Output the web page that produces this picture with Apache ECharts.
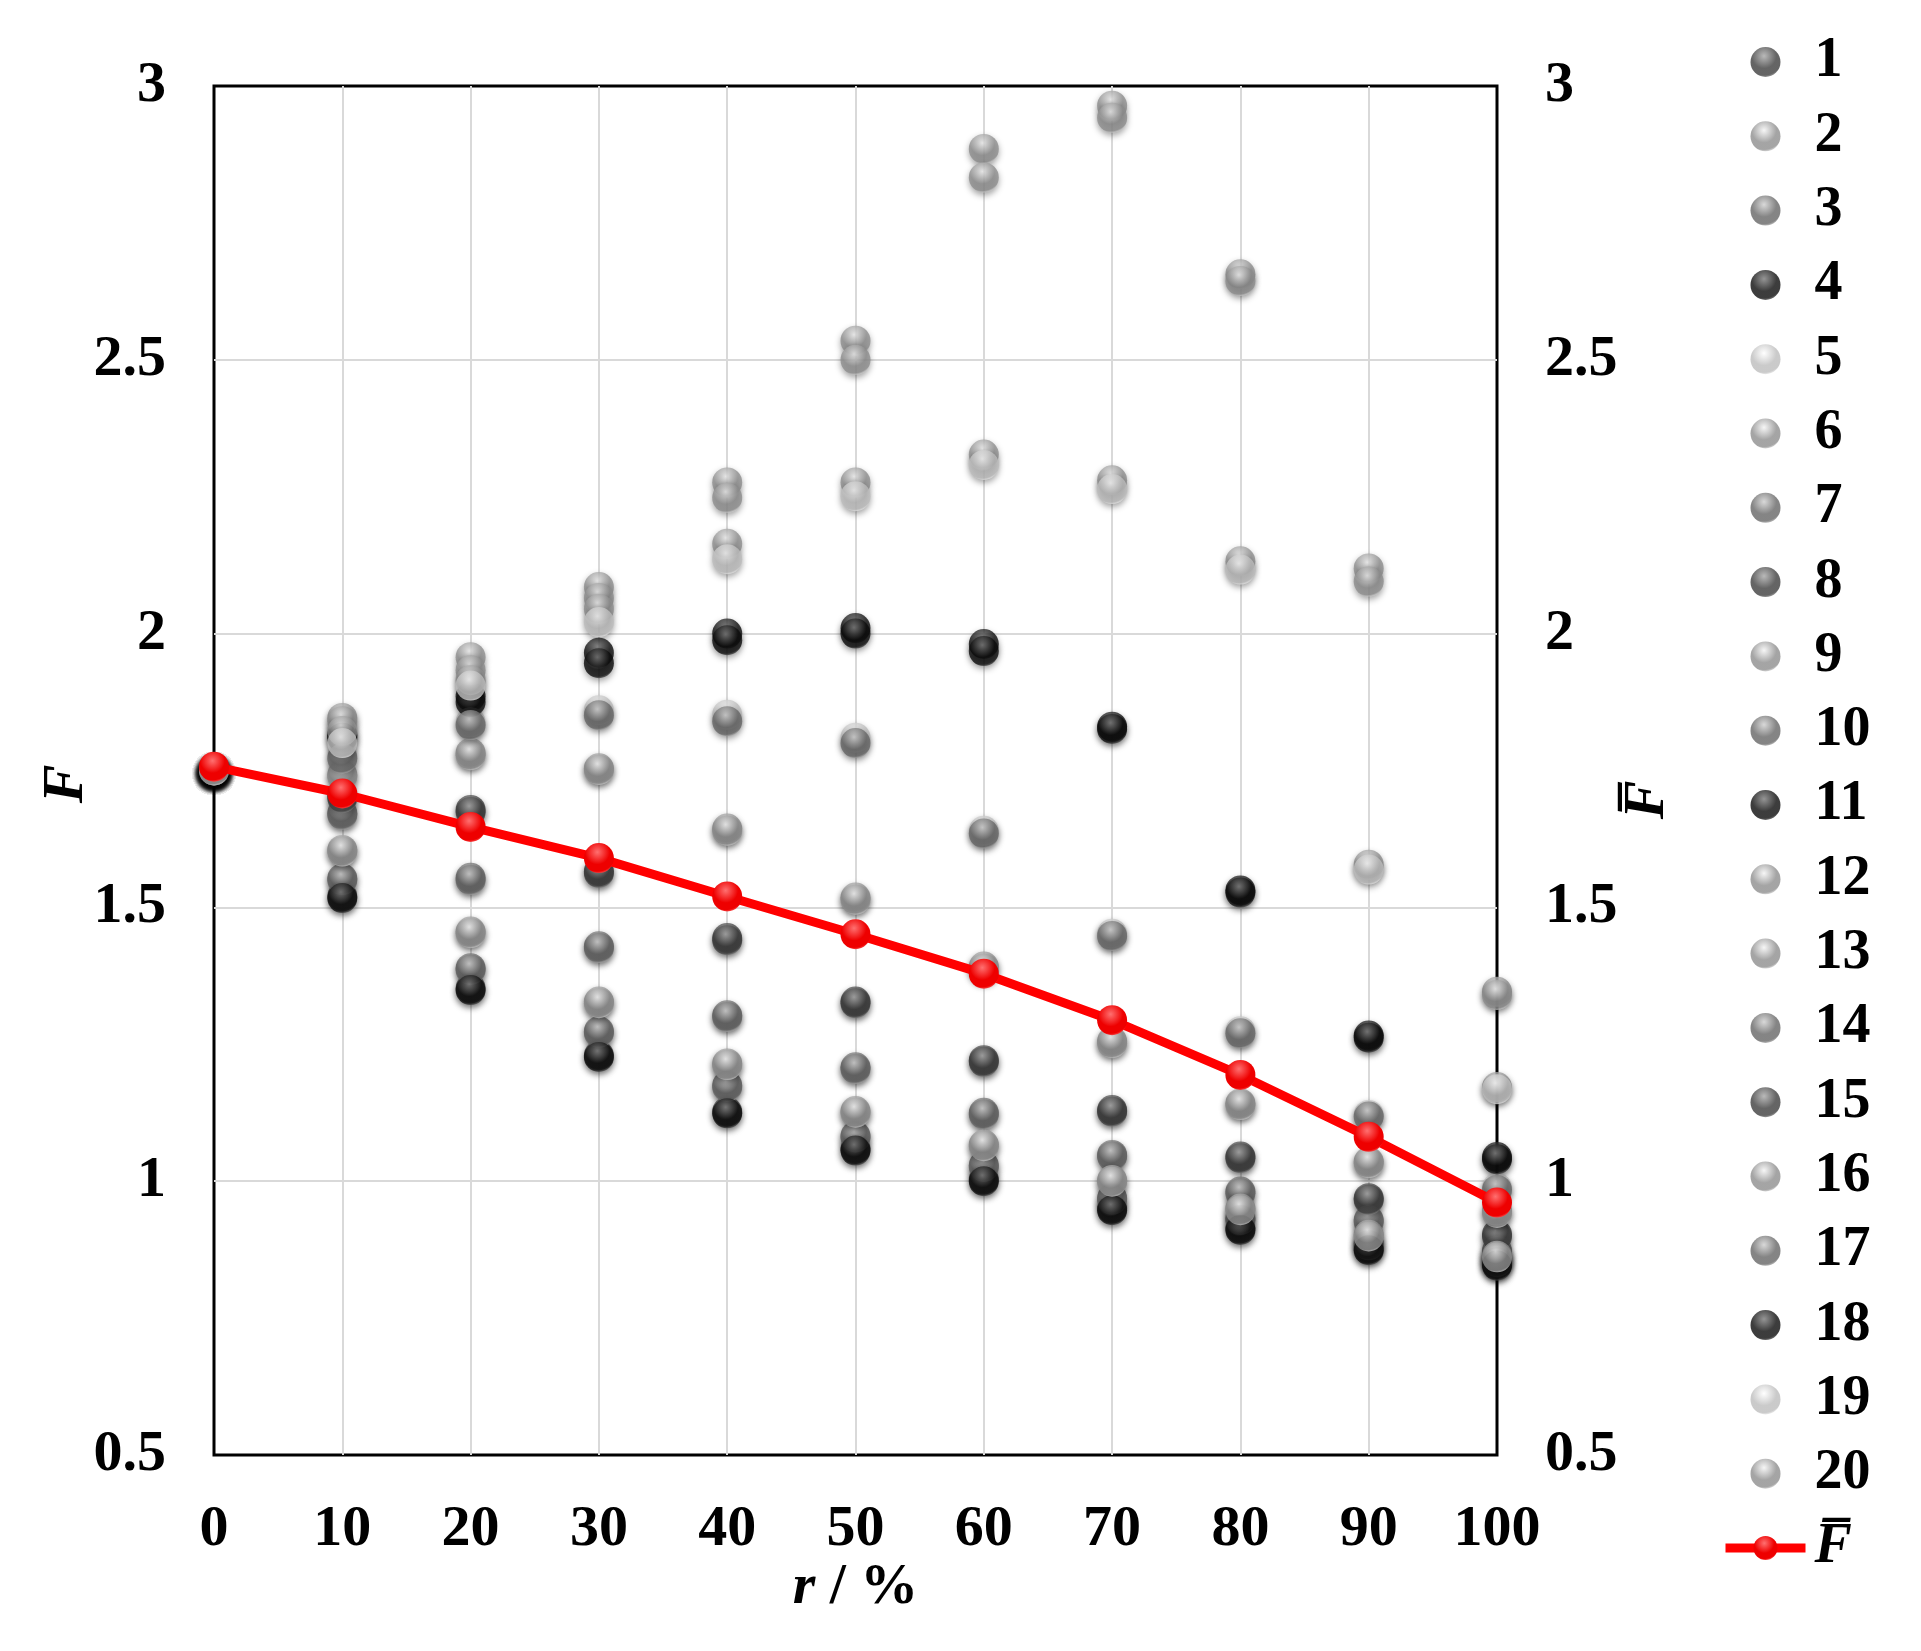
<!DOCTYPE html>
<html>
<head>
<meta charset="utf-8">
<script src="https://cdn.jsdelivr.net/npm/echarts@6/dist/echarts.min.js"></script>
<style>
  html, body { margin: 0; padding: 0; background: #fff; }
  #chart { width: 1921px; height: 1651px; }
</style>
</head>
<body>
<div id="chart"></div>
<script>
/* datos */
const rVals = [0, 10, 20, 30, 40, 50, 60, 70, 80, 90, 100];

const f1  = [1.75, 1.703, 1.678, 1.566, 1.444, 1.328, 1.221, 1.130, 1.045, 0.969, 0.903];
const f2  = [1.75, 1.846, 1.957, 2.085, 2.276, 2.535, 2.885, 2.964, 2.656, 2.119, 1.346];
const f3  = [1.75, 1.672, 1.554, 1.429, 1.303, 1.208, 1.125, 1.048, 0.981, 0.929, 0.873];
const f4  = [1.75, 1.815, 1.885, 1.965, 2.000, 2.010, 1.981, 1.830, 1.531, 1.266, 1.044];
const f5  = [1.75, 1.776, 1.838, 1.860, 1.852, 1.810, 1.640, 1.452, 1.274, 1.121, 0.988];
const f6  = [1.75, 1.840, 1.933, 2.065, 2.248, 2.500, 2.833, 2.942, 2.644, 2.095, 1.340];
const f7  = [1.75, 1.669, 1.550, 1.426, 1.300, 1.205, 1.122, 1.045, 0.978, 0.926, 0.870];
const f8  = [1.75, 1.700, 1.674, 1.563, 1.440, 1.325, 1.218, 1.127, 1.042, 0.966, 0.899];
const f9  = [1.75, 1.742, 1.782, 1.754, 1.644, 1.518, 1.392, 1.256, 1.142, 1.036, 0.946];
const f10 = [1.75, 1.553, 1.389, 1.274, 1.175, 1.083, 1.029, 0.969, 0.932, 0.886, 0.855];
const f11 = [1.75, 1.810, 1.875, 1.946, 1.988, 2.000, 1.968, 1.826, 1.527, 1.262, 1.040];
const f12 = [1.75, 1.739, 1.778, 1.751, 1.640, 1.514, 1.388, 1.252, 1.139, 1.033, 0.942];
const f13 = [1.75, 1.822, 1.915, 2.045, 2.164, 2.276, 2.327, 2.280, 2.132, 1.578, 1.172];
const f14 = [1.75, 1.772, 1.833, 1.851, 1.840, 1.800, 1.635, 1.448, 1.270, 1.118, 0.984];
const f15 = [1.75, 1.520, 1.352, 1.230, 1.127, 1.059, 1.003, 0.950, 0.914, 0.877, 0.849];
const f16 = [1.75, 1.605, 1.456, 1.328, 1.215, 1.128, 1.067, 1.002, 0.950, 0.902, 0.864];
const f17 = [1.75, 1.550, 1.386, 1.271, 1.172, 1.080, 1.026, 0.966, 0.929, 0.883, 0.852];
const f18 = [1.75, 1.517, 1.349, 1.227, 1.124, 1.056, 1.000, 0.947, 0.911, 0.874, 0.846];
const f19 = [1.75, 1.800, 1.905, 2.021, 2.136, 2.251, 2.308, 2.264, 2.117, 1.569, 1.168];
const f20 = [1.75, 1.602, 1.453, 1.325, 1.212, 1.125, 1.064, 0.999, 0.947, 0.899, 0.861];

const fMedia = [1.757, 1.708, 1.647, 1.590, 1.520, 1.451, 1.379, 1.294, 1.194, 1.081, 0.961];

const allSeries = [f1, f2, f3, f4, f5, f6, f7, f8, f9, f10,
                   f11, f12, f13, f14, f15, f16, f17, f18, f19, f20];

/* tonos de gris para cada serie: [brillo, base] */
const tonos = {
    oscuro: ['#a8a8a8', '#3e3e3e'],
    claro:  ['#f4f4f4', '#8e8e8e'],
    medio:  ['#cfcfcf', '#666666'],
    negro:  ['#7a7a7a', '#0c0c0c'],
    blanco: ['#ffffff', '#bdbdbd']
};
const tonoSerie = ['oscuro', 'claro', 'medio', 'negro', 'blanco', 'claro', 'medio', 'oscuro', 'claro', 'medio',
                   'negro', 'claro', 'claro', 'medio', 'oscuro', 'claro', 'medio', 'negro', 'blanco', 'claro'];

function esfera(c1, c2) {
    return {
        type: 'radial', x: 0.45, y: 0.3, r: 0.75,
        colorStops: [
            { offset: 0, color: c1 },
            { offset: 0.55, color: c2 },
            { offset: 0.85, color: c2 },
            { offset: 1, color: c1 }
        ]
    };
}

const fuente = '"Liberation Serif", "Times New Roman", serif';
const nombreMedia = 'F\u0305';

const chart = echarts.init(document.getElementById('chart'));

const series = allSeries.map((vals, i) => {
    const t = tonos[tonoSerie[i]];
    return {
        name: String(i + 1),
        type: 'scatter',
        symbol: 'circle',
        symbolSize: 30,
        data: rVals.map((r, k) => [r, vals[k]]),
        itemStyle: {
            color: esfera(t[0], t[1]),
            shadowBlur: 6,
            shadowColor: 'rgba(0,0,0,0.45)',
            shadowOffsetY: 3
        },
        z: 3
    };
});

series.push({
    name: nombreMedia,
    type: 'line',
    data: rVals.map((r, k) => [r, fMedia[k]]),
    symbol: 'circle',
    symbolSize: 30,
    lineStyle: { color: '#ff0000', width: 9 },
    itemStyle: {
        color: esfera('#ff7070', '#ee0000'),
        borderWidth: 0
    },
    z: 5
});

const etiquetaEje = {
    fontFamily: fuente,
    fontWeight: 'bold',
    fontSize: 58,
    color: '#000'
};

const legendData = series.map(s => s.name === nombreMedia
    ? { name: s.name, lineStyle: { width: 9, color: '#ff0000' }, textStyle: { fontStyle: 'italic' } }
    : { name: s.name });

/* titulos de los ejes verticales, girados */
function tituloVertical(texto, x, y) {
    return {
        type: 'text',
        x: x, y: y,
        rotation: Math.PI / 2,
        style: {
            text: texto,
            fontFamily: fuente, fontWeight: 'bold', fontStyle: 'italic', fontSize: 58,
            fill: '#000',
            align: 'center',
            verticalAlign: 'middle'
        }
    };
}

const option = {
    animation: false,
    backgroundColor: '#fff',
    grid: {
        left: 214, right: 424, top: 86, bottom: 196,
        show: true, borderColor: '#000', borderWidth: 3,
        backgroundColor: 'transparent'
    },
    graphic: [
        tituloVertical('F', 67, 784),
        tituloVertical(nombreMedia, 1648, 800)
    ],
    legend: {
        orient: 'vertical',
        left: 1716,
        top: 29,
        bottom: 0,
        itemWidth: 80,
        itemHeight: 30,
        itemGap: 18.3,
        textStyle: {
            fontFamily: fuente,
            fontWeight: 'bold',
            fontSize: 56,
            color: '#000',
            padding: [0, 0, 0, 4]
        },
        data: legendData
    },
    xAxis: {
        type: 'value',
        min: 0, max: 100, interval: 10,
        name: '{i|r} / %',
        nameLocation: 'middle',
        nameMoveOverlap: false,
        nameGap: 104,
        nameTextStyle: {
            fontFamily: fuente, fontWeight: 'bold', fontSize: 58, color: '#000',
            rich: { i: { fontFamily: fuente, fontWeight: 'bold', fontStyle: 'italic', fontSize: 58, color: '#000' } }
        },
        axisLine: { show: false },
        axisTick: { show: false },
        axisLabel: Object.assign({ margin: 46 }, etiquetaEje),
        splitLine: { show: true, showMinLine: false, showMaxLine: false, lineStyle: { color: '#d9d9d9', width: 2 } }
    },
    yAxis: [{
        type: 'value',
        min: 0.5, max: 3, interval: 0.5,
        axisLine: { show: false },
        axisTick: { show: false },
        axisLabel: Object.assign({ margin: 48 }, etiquetaEje),
        splitLine: { show: true, showMinLine: false, showMaxLine: false, lineStyle: { color: '#d9d9d9', width: 2 } }
    }, {
        type: 'value',
        position: 'right',
        min: 0.5, max: 3, interval: 0.5,
        axisLine: { show: false },
        axisTick: { show: false },
        axisLabel: Object.assign({ margin: 48 }, etiquetaEje),
        splitLine: { show: false }
    }],
    series: series
};

chart.setOption(option);
</script>
</body>
</html>
